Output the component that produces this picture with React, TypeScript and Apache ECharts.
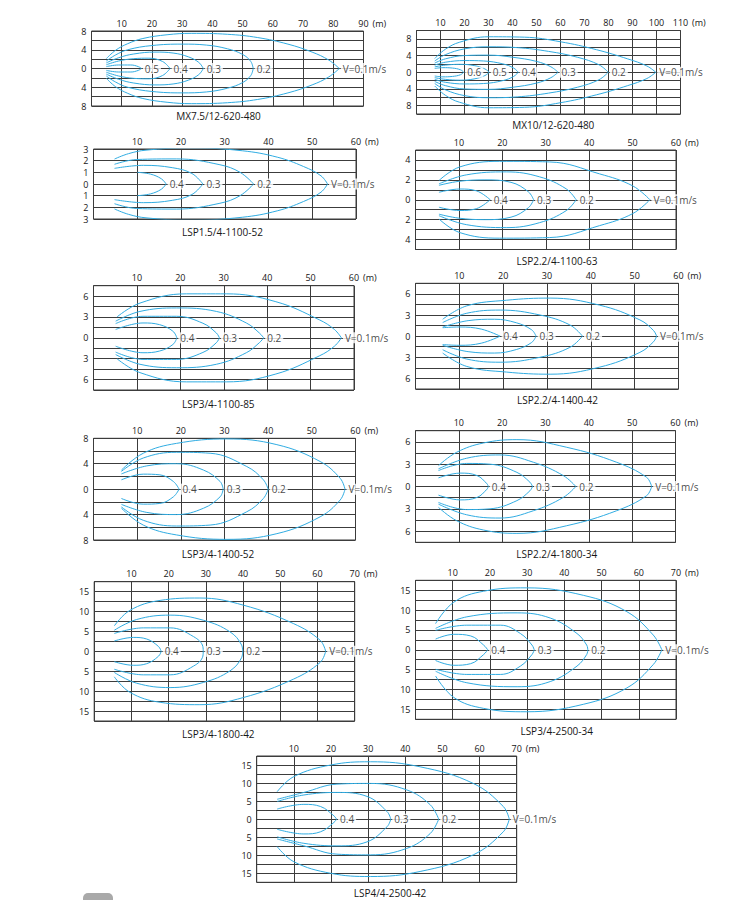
import React, { useEffect, useRef } from 'react';
import * as echarts from 'echarts';

type Pt = [number, number];

// ---------- data ----------
const titles = [
  'MX7.5/12-620-480', 'MX10/12-620-480', 'LSP1.5/4-1100-52', 'LSP2.2/4-1100-63',
  'LSP3/4-1100-85', 'LSP2.2/4-1400-42', 'LSP3/4-1400-52', 'LSP2.2/4-1800-34',
  'LSP3/4-1800-42', 'LSP3/4-2500-34', 'LSP4/4-2500-42',
];
const xMaxes = [90, 110, 60, 60, 60, 60, 60, 60, 70, 70, 70];
const yMaxes = [8, 10, 3, 5, 7.5, 7.5, 8, 7.5, 17.5, 17.5, 17.5];
const ySteps = [2, 2, 1, 1, 1.5, 1.5, 2, 1.5, 2.5, 2.5, 2.5];
const yTickLabels = [
  [0, 4, 8], [0, 4, 8], [0, 1, 2, 3], [0, 2, 4], [0, 3, 6], [0, 3, 6],
  [0, 4, 8], [0, 3, 6], [0, 5, 10, 15], [0, 5, 10, 15], [0, 5, 10, 15],
];
const speeds4 = ['0.1', '0.2', '0.3', '0.4'];
const speedsMX75 = ['0.1', '0.2', '0.3', '0.4', '0.5'];
const speedsMX10 = ['0.1', '0.2', '0.3', '0.4', '0.5', '0.6'];

// upper halves of the velocity isolines (x in m, y in m), outermost first
const curvesMX75: Pt[][] = [
  [[4.9, 2.1], [8, 3.9], [12, 5.3], [17, 6.4], [25, 7.2], [33, 7.5], [45, 7.3], [55, 6.6], [65, 5.2], [73, 3.5], [78.5, 1.8], [82, 0]],
  [[4.9, 1.6], [8, 2.9], [12, 4.0], [20, 4.9], [30, 5.2], [38, 5.0], [45, 4.2], [50, 3.0], [52.7, 1.5], [53.5, 0]],
  [[4.9, 1.2], [9, 2.3], [14, 3.1], [21, 3.5], [27, 3.3], [32, 2.5], [35.5, 1.3], [37, 0]],
  [[4.9, 0.8], [9, 1.6], [14, 2.1], [19, 2.2], [23.5, 1.5], [26, 0]],
  [[4.9, 0.4], [9, 0.75], [13, 0.75], [15.5, 0.4], [16.5, 0]],
];
const curvesMX10: Pt[][] = [
  [[7.6, 3.3], [12, 5.5], [18, 7.2], [30, 8.5], [45, 8.4], [60, 7.3], [75, 5.4], [88, 3.2], [96, 1.5], [99.7, 0]],
  [[7.6, 2.7], [12, 4.2], [20, 5.6], [30, 6.1], [42, 5.9], [55, 5.0], [67, 3.6], [76, 1.8], [79.9, 0]],
  [[7.6, 2.2], [12, 3.2], [20, 4.0], [30, 4.1], [40, 3.6], [50, 2.6], [56, 1.3], [59, 0]],
  [[7.6, 1.7], [12, 2.4], [20, 2.8], [28, 2.7], [36, 2.0], [40.5, 1.0], [42.4, 0]],
  [[7.6, 1.3], [12, 1.7], [18, 1.9], [24, 1.6], [28.5, 0.8], [30.3, 0]],
  [[7.6, 0.9], [11, 1.1], [15, 1.0], [18.3, 0.6], [19.7, 0]],
];
const curvesLSP15_1100: Pt[][] = [
  [[4.8, 2.14], [8, 2.6], [12, 2.9], [22, 3.1], [34, 2.85], [42, 2.3], [48, 1.5], [52, 0.7], [53.5, 0]],
  [[4.8, 1.69], [9.9, 2.1], [19, 2.15], [28.9, 1.65], [33.5, 1.0], [36.6, 0]],
  [[4.8, 1.34], [11.4, 1.6], [18, 1.4], [22.5, 0.9], [25, 0]],
  [[10, 1.0], [13, 0.85], [15.5, 0.45], [16.6, 0]],
];
const curvesLSP22_1100: Pt[][] = [
  [[5.4, 1.93], [10.2, 3.3], [19.4, 3.86], [30.9, 3.8], [42.4, 2.6], [50, 1.4], [54, 0]],
  [[5.4, 1.6], [11.7, 2.5], [20.9, 2.8], [28.6, 2.3], [34.7, 1.1], [37, 0]],
  [[5.4, 1.45], [10, 1.85], [16, 2.0], [22, 1.75], [26, 0.8], [27.2, 0]],
  [[5.4, 0.75], [10.2, 1.08], [14, 0.9], [17.2, 0]],
];
const curvesLSP3_1100: Pt[][] = [
  [[5.4, 3], [10.7, 5], [21.4, 6.33], [30.6, 6.33], [42, 5.2], [52, 2.6], [55.5, 1.2], [57.1, 0]],
  [[5.1, 2.4], [10.7, 3.8], [19.1, 4.3], [28.3, 3.8], [35.2, 2.14], [38.2, 0.7], [39.2, 0]],
  [[5.1, 2.05], [11.4, 3.1], [19.1, 3.1], [25.2, 2.1], [28.3, 0.7], [29, 0]],
  [[5.1, 1.2], [11.4, 2.14], [15.2, 1.9], [18.3, 0.95], [19.2, 0]],
];
const curvesLSP22_1400: Pt[][] = [
  [[6.2, 2.4], [11.7, 4.3], [20.8, 5.1], [30.7, 5.4], [42, 4.4], [51.2, 2.3], [54.3, 0.8], [55, 0]],
  [[6.2, 1.93], [11.7, 3.25], [19.3, 3.7], [28.4, 3.0], [35.2, 1.6], [38.1, 0]],
  [[6.2, 1.3], [12, 2.2], [18, 2.4], [23, 1.9], [26.5, 0.9], [27.5, 0]],
  [[6.2, 1.2], [10, 1.3], [15, 1.0], [19.3, 0]],
];
const curvesLSP3_1400: Pt[][] = [
  [[6.4, 3.0], [11.4, 5.65], [19, 7.2], [30.5, 7.9], [42, 7.0], [51.9, 4.35], [56.5, 1.7], [57.6, 0]],
  [[6.4, 2.8], [11.4, 4.9], [19, 5.8], [26.7, 5.65], [35.1, 3.56], [38.9, 1.47], [40, 0]],
  [[6.4, 2.4], [12.2, 3.66], [19, 4.0], [25.2, 3.0], [29, 1.2], [29.7, 0]],
  [[6.4, 1.47], [11.4, 2.36], [15.2, 2.25], [18.3, 1.2], [19.6, 0]],
];
const curvesLSP22_1800: Pt[][] = [
  [[5.3, 2.8], [9.5, 4.6], [15.7, 5.85], [23.4, 6.3], [34.9, 5.27], [46.4, 3.26], [53.3, 1.25], [54.5, 0]],
  [[5.3, 2.37], [11.8, 3.8], [19.5, 4.24], [27.2, 3.26], [34.1, 1.47], [37, 0]],
  [[5.3, 2.14], [11.8, 3.1], [17.2, 3.0], [23.4, 1.9], [26.4, 0.58], [27, 0]],
  [[5.3, 1.16], [10.3, 1.8], [14.2, 1.47], [16.5, 0.36], [16.8, 0]],
];
const curvesLSP3_1800: Pt[][] = [
  [[5.4, 6.4], [9.6, 10.3], [17.7, 12.8], [28.4, 13.4], [40.1, 11.6], [53.5, 7], [60.7, 2.8], [62.2, 0]],
  [[5.4, 5.3], [11.4, 8], [20.4, 9.1], [29.4, 7.8], [36.5, 4.9], [39.6, 1.6], [39.9, 0]],
  [[5.4, 4.5], [13.2, 5.9], [20.4, 5.9], [26.7, 3.7], [29.2, 1.2], [29.3, 0]],
  [[5.4, 2.6], [10.5, 3.5], [14.1, 3.1], [17.3, 1.2], [18, 0]],
];
const curvesLSP3_2500: Pt[][] = [
  [[5.4, 6.6], [10.3, 12], [18.3, 14.75], [29.9, 15.6], [45.2, 13.7], [56.8, 9.6], [63.9, 3.7], [66.2, 0]],
  [[5.4, 5.4], [13.8, 8.3], [27.3, 9.3], [36.2, 8.0], [43.4, 4.1], [46, 1.2], [46.3, 0]],
  [[5.4, 4.9], [13.8, 6.2], [22.8, 6.2], [28.2, 4.1], [31.3, 1.2], [31.9, 0]],
  [[5.4, 2.7], [10.3, 3.9], [14.8, 3.5], [18.3, 1.2], [19.4, 0]],
];
const curvesLSP4_2500: Pt[][] = [
  [[5.5, 7.6], [10, 11.8], [19.9, 15], [30.6, 15.9], [44, 14.5], [58.3, 9.9], [66.4, 3.5], [68, 0]],
  [[5.5, 5.5], [12.7, 7.4], [21.6, 9.7], [30.6, 9.9], [40.4, 8.1], [46.7, 4], [49, 0]],
  [[5.5, 4.9], [12.7, 6.7], [21.6, 7.4], [29.7, 6.3], [35.1, 2.1], [36.1, 0]],
  [[5.5, 2.8], [12.7, 4.1], [17.2, 3.5], [20.8, 0.9], [21.5, 0]],
];

const allCurves = [
  curvesMX75, curvesMX10, curvesLSP15_1100, curvesLSP22_1100, curvesLSP3_1100, curvesLSP22_1400,
  curvesLSP3_1400, curvesLSP22_1800, curvesLSP3_1800, curvesLSP3_2500, curvesLSP4_2500,
];
const allSpeeds = [speedsMX75, speedsMX10, speeds4, speeds4, speeds4, speeds4, speeds4, speeds4, speeds4, speeds4, speeds4];

// ---------- layout (px) ----------
const layout = [
  { left: 91.5, top: 31, width: 272, height: 75, tx: 218.5, ty: 115.5 },
  { left: 416.5, top: 30.5, width: 264, height: 83.5, tx: 553.3, ty: 124.5 },
  { left: 93.5, top: 149, width: 262.5, height: 70, tx: 222.5, ty: 232 },
  { left: 415.5, top: 150, width: 260.5, height: 99.5, tx: 557, ty: 261 },
  { left: 93.5, top: 285.7, width: 260.5, height: 104.3, tx: 218.3, ty: 404 },
  { left: 415.5, top: 283.3, width: 263, height: 105.7, tx: 557.5, ty: 400 },
  { left: 93.5, top: 438.3, width: 262, height: 101.7, tx: 218, ty: 554 },
  { left: 415.5, top: 430.7, width: 260, height: 111.6, tx: 556.7, ty: 554 },
  { left: 94.2, top: 581.7, width: 260.5, height: 139.3, tx: 218.3, ty: 734 },
  { left: 415.5, top: 580.3, width: 260.5, height: 139, tx: 556.7, ty: 731 },
  { left: 256.7, top: 756, width: 260, height: 126.3, tx: 390, ty: 892.5 },
];

const FONT = '"Open Sans", "Noto Sans", sans-serif';
const TEXT = '#161616';
const LINE = '#3c3c3c';
const BLUE = '#30ace2';

function buildOption() {
  const grid: any[] = [];
  const xAxis: any[] = [];
  const yAxis: any[] = [];
  const series: any[] = [];
  const title: any[] = [];

  titles.forEach((t, i) => {
    const L = layout[i];
    const labs = yTickLabels[i];
    grid.push({
      left: L.left, top: L.top, width: L.width, height: L.height,
      show: true, borderColor: LINE, borderWidth: 1, backgroundColor: 'transparent',
    });
    xAxis.push({
      gridIndex: i, type: 'value', position: 'top', min: 0, max: xMaxes[i], interval: 10,
      axisLine: { show: false, onZero: false }, axisTick: { show: false },
      splitLine: { show: true, lineStyle: { color: LINE, width: 1 } },
      axisLabel: {
        fontSize: 9, color: TEXT, margin: 3.5, fontFamily: FONT,
        formatter: (v: number) => (v === 0 ? '' : String(v)),
      },
      name: '(m)', nameLocation: 'end', nameGap: 8,
      nameTextStyle: { fontSize: 9, color: TEXT, fontFamily: FONT, verticalAlign: 'bottom', padding: [0, 0, 3.5, 0] },
    });
    yAxis.push({
      gridIndex: i, type: 'value', min: -yMaxes[i], max: yMaxes[i], interval: ySteps[i],
      axisLine: { show: false, onZero: false }, axisTick: { show: false },
      splitLine: { show: true, lineStyle: { color: LINE, width: 1 } },
      axisLabel: {
        fontSize: 9, color: TEXT, margin: 5, fontFamily: FONT,
        formatter: (v: number) => {
          const a = Math.abs(v);
          return labs.some((l) => Math.abs(l - a) < 1e-6) ? String(Math.round(a * 10) / 10) : '';
        },
      },
    });
    const curves = allCurves[i];
    const sp = allSpeeds[i];
    curves.forEach((c) => {
      const common = {
        type: 'line', xAxisIndex: i, yAxisIndex: i, smooth: 0.4, symbol: 'none', silent: true,
        lineStyle: { color: BLUE, width: 1 }, z: 3,
      };
      series.push({ ...common, data: c });
      series.push({ ...common, data: c.map(([x, y]) => [x, -y]) });
    });
    series.push({
      type: 'scatter', xAxisIndex: i, yAxisIndex: i, symbolSize: 1, silent: true,
      itemStyle: { color: 'rgba(0,0,0,0)' }, z: 5,
      data: curves.map((c, k) => ({
        value: [c[c.length - 1][0], 0],
        name: k === 0 ? `V=${sp[0]}m/s` : sp[k],
      })),
      label: {
        show: true, position: 'right', distance: 1, formatter: '{b}',
        backgroundColor: '#ffffff', padding: [1, 2, 0, 2],
        fontSize: 10, color: TEXT, fontFamily: FONT,
      },
    });
    title.push({
      text: t, left: L.tx, top: L.ty, textAlign: 'center', textVerticalAlign: 'middle', padding: 0,
      textStyle: { fontSize: 10, fontWeight: 'normal', color: TEXT, fontFamily: FONT },
    });
  });

  return {
    animation: false,
    backgroundColor: '#ffffff',
    title,
    grid,
    xAxis,
    yAxis,
    series,
    graphic: [
      { type: 'rect', shape: { x: 83, y: 893, width: 30, height: 14, r: [5, 5, 0, 0] }, style: { fill: '#a9a9a9' } },
    ],
  };
}

export default function App() {
  const ref = useRef<HTMLDivElement>(null);
  useEffect(() => {
    const chart = echarts.init(ref.current as HTMLDivElement, null, { renderer: 'svg' });
    chart.setOption(buildOption() as any);
    return () => chart.dispose();
  }, []);
  return (
    <div
      ref={ref}
      style={{ position: 'absolute', left: 0, top: 0, width: 732, height: 900, background: '#fff' }}
    />
  );
}
